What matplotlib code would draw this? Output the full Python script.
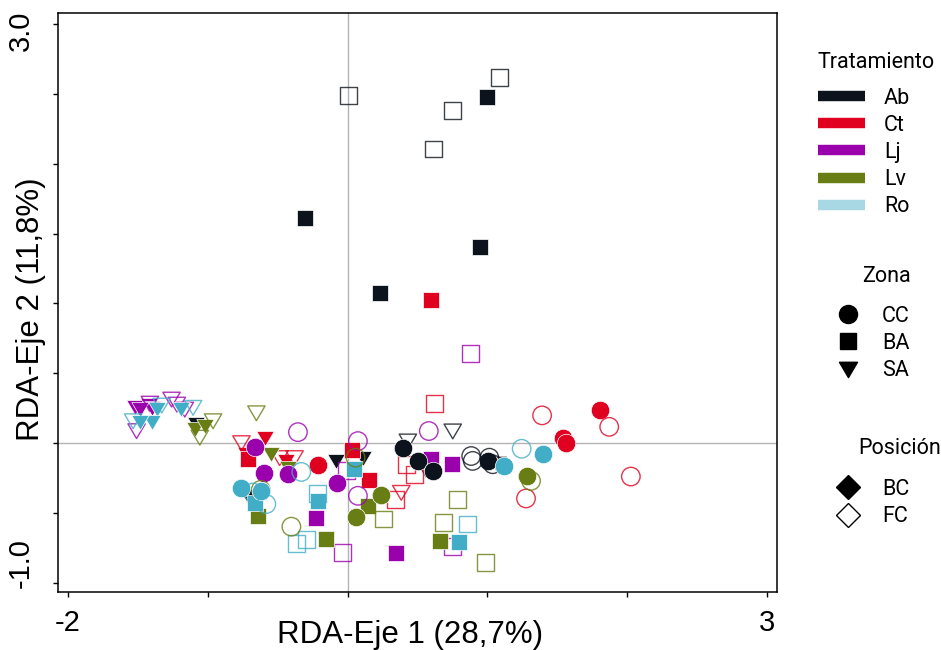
import matplotlib
matplotlib.use("Agg")
import matplotlib.pyplot as plt
from matplotlib.lines import Line2D
from matplotlib.path import Path as MPath
from matplotlib.colors import to_rgba
from matplotlib.transforms import ScaledTranslation

# ---- site scores ----
# Zona CC (circles)
cc_trat = ["Ab"] * 8 + ["Ct"] * 8 + ["Lj"] * 8 + ["Lv"] * 7 + ["Ro"] * 8
cc_pos = (["BC"] * 4 + ["FC"] * 4) * 3 + ["BC"] * 3 + ["FC"] * 4 + ["BC"] * 4 + ["FC"] * 4
cc_x = [0.395, 0.502, 0.609, 1.002, 0.884, 0.895, 1.014, 1.038,
        1.805, 1.538, 1.562, -0.212, 1.391, 1.871, 2.026, 1.276,
        -0.659, -0.598, -0.426, -0.074, -0.355, 0.074, 0.581, 0.074,
        0.236, 0.057, 1.284, 0.057, 1.312, -0.402, -0.621,
        -0.759, -0.616, 1.121, 1.395, -0.676, -0.581, -0.331, 1.245]
cc_y = [-0.034, -0.128, -0.200, -0.128, -0.093, -0.128, -0.105, -0.152,
        0.235, 0.038, 0.002, -0.159, 0.198, 0.116, -0.240, -0.397,
        -0.026, -0.212, -0.223, -0.283, 0.078, 0.014, 0.086, -0.378,
        -0.373, -0.528, -0.235, -0.105, -0.271, -0.599, -0.335,
        -0.319, -0.342, -0.164, -0.081, -0.354, -0.437, -0.207, -0.041]

# Zona BA (squares)
ba_trat = ["Ab"] * 8 + ["Ct"] * 8 + ["Lj"] * 8 + ["Lv"] * 8 + ["Ro"] * 8
ba_pos = (["BC"] * 4 + ["FC"] * 4) * 5
ba_x = [1.000, -0.305, 0.950, 0.230, 1.086, 0.007, 0.752, 0.616,
        0.600, 0.034, 0.152, -0.712, 0.621, 0.419, 0.479, 0.343,
        0.598, 0.748, -0.224, 0.348, 0.881, -0.005, -0.034, 0.748,
        -0.643, -0.152, 0.145, 0.662, 0.257, 0.784, 0.686, 0.984,
        -0.664, -0.212, 0.043, 0.795, -0.366, -0.295, 0.859, -0.212]
ba_y = [2.477, 1.614, 1.401, 1.073, 2.618, 2.491, 2.382, 2.106,
        1.021, -0.052, -0.264, -0.116, 0.284, -0.152, -0.223, -0.406,
        -0.116, -0.152, -0.537, -0.786, 0.641, -0.200, -0.782, -0.742,
        -0.520, -0.687, -0.449, -0.699, -0.544, -0.406, -0.568, -0.858,
        -0.426, -0.414, -0.188, -0.706, -0.722, -0.694, -0.580, -0.364]

# Zona SA (triangles)
sa_trat = ["Ab"] * 8 + ["Ct"] * 7 + ["Lj"] * 9 + ["Lv"] * 7 + ["Ro"] * 7
sa_pos = (["BC"] * 4 + ["FC"] * 4 + ["BC"] * 3 + ["FC"] * 4 + ["BC"] * 4 + ["FC"] * 5
          + ["BC"] * 4 + ["FC"] * 3 + ["BC"] * 4 + ["FC"] * 3)
sa_x = [-1.081, -0.081, 0.109, -0.712, 0.431, 0.752, 1.074, 0.562,
        -0.593, -0.438, -0.724, -0.759, -0.486, -0.379, 0.384,
        -1.521, -1.421, -1.400, -1.486, -1.509, -1.259, -1.221, -1.164, -1.414,
        -1.093, -1.021, -0.545, -0.426, -0.962, -1.057, -0.652,
        -1.366, -1.402, -1.486, -1.188, -1.534, -1.105, -1.329]
sa_y = [0.135, -0.128, -0.105, -0.378, 0.014, 0.086, -0.152, -0.188,
        0.038, -0.128, -0.081, 0.002, -0.105, -0.105, -0.354,
        0.255, 0.271, 0.250, 0.242, 0.088, 0.314, 0.278, 0.242, 0.285,
        0.100, 0.123, -0.081, -0.176, 0.159, 0.041, 0.216,
        0.242, 0.148, 0.148, 0.242, 0.159, 0.255, 0.271]

treatments = ["Ab", "Ct", "Lj", "Lv", "Ro"]
zones = ["CC", "BA", "SA"]
positions = ["BC", "FC"]
colors = {"Ab": "#0d131c", "Ct": "#e0001f", "Lj": "#9b00ad",
          "Lv": "#687d13", "Ro": "#42adc6"}
legend_colors = {"Ab": "#0d131c", "Ct": "#e0001f", "Lj": "#9b00ad",
                 "Lv": "#687d13", "Ro": "#a8d8e4"}

# wide, flat downward triangle like R's pch 25
tri_down = MPath([(-1, 0.8), (1, 0.8), (0, -0.9), (-1, 0.8)],
                 [MPath.MOVETO, MPath.LINETO, MPath.LINETO, MPath.CLOSEPOLY])

zone_data = [
    ("SA", sa_x, sa_y, sa_trat, sa_pos, tri_down, 12.5),
    ("BA", ba_x, ba_y, ba_trat, ba_pos, "s", 12.2),
    ("CC", cc_x, cc_y, cc_trat, cc_pos, "o", 13.3),
]

fig = plt.figure(figsize=(9.41, 6.5), dpi=100)
ax = fig.add_axes([58 / 941, 1 - 592 / 650, 719 / 941, 579 / 650])

ax.axvline(0, color="#b3b3b3", lw=1, zorder=0)
ax.axhline(0, color="#b3b3b3", lw=1, zorder=0)

for zone, xs, ys, trs, pss, mk, ms in zone_data:
    for t in treatments:
        for p in positions:
            px = [x for x, tt, pp in zip(xs, trs, pss) if tt == t and pp == p]
            py = [y for y, tt, pp in zip(ys, trs, pss) if tt == t and pp == p]
            if not px:
                continue
            if p == "BC":
                ax.scatter(px, py, s=ms ** 2, marker=mk, facecolor=colors[t],
                           edgecolor="white", linewidth=0.5, zorder=3)
            else:
                ax.scatter(px, py, s=ms ** 2, marker=mk, facecolor="none",
                           edgecolor=to_rgba(colors[t], 0.8), linewidth=1.0, zorder=3)

ax.set_xlim(-2.071, 3.071)
ax.set_ylim(-1.067, 3.08)

ax.set_xticks([-2, -1, 0, 1, 2, 3])
ax.set_xticklabels(["-2", "", "", "", "", "3"])
ax.set_yticks([-1.0, -0.5, 0.0, 0.5, 1.0, 1.5, 2.0, 2.5, 3.0])
ax.set_yticklabels(["-1.0", "", "", "", "", "", "", "", "3.0"],
                   rotation=90, va="center")
ax.tick_params(direction="out", length=3.5, width=1, labelsize=21)
ax.tick_params(axis="x", pad=8.5)
ax.tick_params(axis="y", pad=13)
for lab in ax.get_xticklabels() + ax.get_yticklabels():
    lab.set_fontfamily("Liberation Sans")
for sp in ax.spines.values():
    sp.set_linewidth(1.1)

# R pulls the end labels of the y axis slightly inward
yticks = ax.yaxis.get_major_ticks()
yticks[0].label1.set_transform(yticks[0].label1.get_transform()
                               + ScaledTranslation(0, 0.20, fig.dpi_scale_trans))
yticks[-1].label1.set_transform(yticks[-1].label1.get_transform()
                                + ScaledTranslation(0, -0.07, fig.dpi_scale_trans))

ax.set_xlabel("RDA-Eje 1 (28,7%)", fontsize=22.5, family="Liberation Sans")
ax.set_ylabel("RDA-Eje 2 (11,8%)", fontsize=22.5, family="Liberation Sans")
ax.xaxis.set_label_coords(0.489, -0.049)
ax.yaxis.set_label_coords(-0.017, 0.489)

# ---- legends ----
lfont = {"family": "Roboto", "size": 15.5}

trat_handles = [Line2D([], [], color=legend_colors[t], lw=7.5, solid_capstyle="butt")
                for t in treatments]
fig.legend(trat_handles, treatments, loc="center left",
           bbox_to_anchor=(818 / 941, 1 - 152.5 / 650), frameon=False,
           prop=lfont, handlelength=2.19, handletextpad=0.88,
           labelspacing=0.283, borderpad=0, borderaxespad=0)

zona_handles = [Line2D([], [], ls="none", marker="o", ms=13, color="black"),
                Line2D([], [], ls="none", marker="s", ms=11.5, color="black"),
                Line2D([], [], ls="none", marker=tri_down, ms=13, color="black")]
fig.legend(zona_handles, zones, loc="center left",
           bbox_to_anchor=(833 / 941, 1 - 343.5 / 650), frameon=False,
           prop=lfont, handlelength=1.4, handletextpad=0.88,
           labelspacing=0.283, borderpad=0, borderaxespad=0)

pos_handles = [Line2D([], [], ls="none", marker="D", ms=12, color="black"),
               Line2D([], [], ls="none", marker="D", ms=12, markerfacecolor="white",
                      markeredgecolor="black", markeredgewidth=1)]
fig.legend(pos_handles, positions, loc="center left",
           bbox_to_anchor=(833 / 941, 1 - 503 / 650), frameon=False,
           prop=lfont, handlelength=1.4, handletextpad=0.88,
           labelspacing=0.283, borderpad=0, borderaxespad=0)

fig.text(818 / 941, 1 - 62 / 650, "Tratamiento", ha="left", va="center", **lfont)
fig.text(862 / 941, 1 - 276 / 650, "Zona", ha="left", va="center", **lfont)
fig.text(858 / 941, 1 - 448 / 650, "Posición", ha="left", va="center", **lfont)

fig.savefig("out.png", dpi=100)
